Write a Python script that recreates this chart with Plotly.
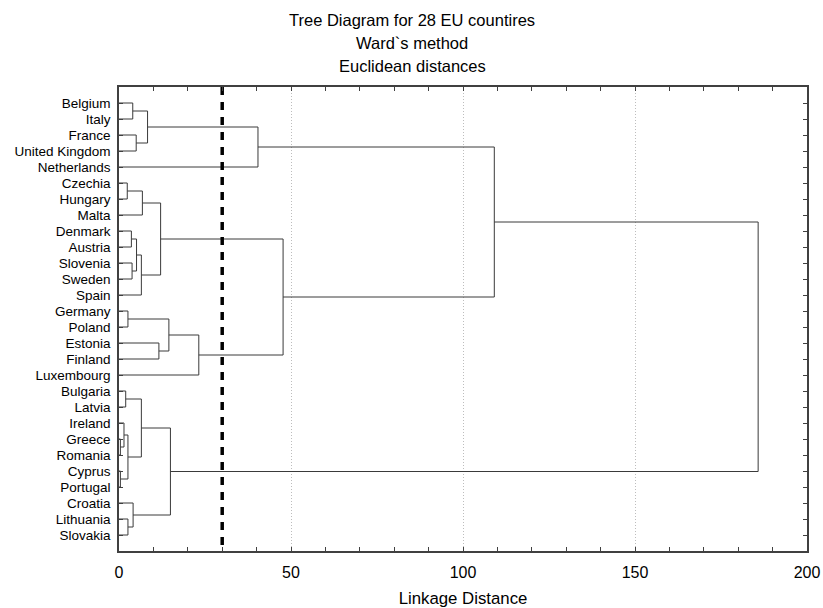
import plotly.graph_objects as go

leaves = ["Belgium", "Italy", "France", "United Kingdom", "Netherlands",
          "Czechia", "Hungary", "Malta", "Denmark", "Austria", "Slovenia",
          "Sweden", "Spain", "Germany", "Poland", "Estonia", "Finland",
          "Luxembourg", "Bulgaria", "Latvia", "Ireland", "Greece", "Romania",
          "Cyprus", "Portugal", "Croatia", "Lithuania", "Slovakia"]

# merges: children are leaf names or "M<i>" (earlier merges)
merge_left = ["Belgium", "France", "M0", "M2", "Czechia", "M4", "Denmark",
              "Slovenia", "M6", "M8", "M5", "Germany", "Estonia", "M11", "M13",
              "M10", "M3", "Bulgaria", "Greece", "Ireland", "Cyprus", "M19",
              "M17", "Lithuania", "Croatia", "M22", "M16"]
merge_right = ["Italy", "United Kingdom", "M1", "Netherlands", "Hungary",
               "Malta", "Austria", "Sweden", "M7", "Spain", "M9", "Poland",
               "Finland", "M12", "Luxembourg", "M14", "M15", "Latvia",
               "Romania", "M18", "Portugal", "M20", "M21", "Slovakia", "M23",
               "M24", "M25"]
merge_height = [4.0, 5.0, 8.3, 40.4, 2.4, 6.8, 3.6, 3.8, 5.1, 6.5, 12.1,
                2.6, 11.6, 14.5, 23.2, 47.7, 109.1, 1.95, 0.4, 1.45, 0.4,
                2.6, 6.5, 2.6, 4.1, 14.95, 185.8]

cutoff = 30
x_ticks = [0, 50, 100, 150, 200]

title_lines = ["Tree Diagram for 28 EU countires", "Ward`s method",
               "Euclidean distances"]

# positions of nodes
pos = {name: (0.0, float(i)) for i, name in enumerate(leaves)}
xs, ys = [], []
for i, (a, b, h) in enumerate(zip(merge_left, merge_right, merge_height)):
    ha, ya = pos[a]
    hb, yb = pos[b]
    xs += [ha, h, h, hb, None]
    ys += [ya, ya, yb, yb, None]
    pos[f"M{i}"] = (h, (ya + yb) / 2)

fig = go.Figure()
fig.add_trace(go.Scatter(x=xs, y=ys, mode="lines",
                         line=dict(color="#3a3a3a", width=1),
                         hoverinfo="skip", showlegend=False))
fig.add_trace(go.Scatter(x=[cutoff, cutoff], y=[-1, len(leaves)], mode="lines",
                         line=dict(color="black", width=3.5, dash="8px,7px"),
                         hoverinfo="skip", showlegend=False))

font_family = "Liberation Sans, Arial, sans-serif"
annotations = []
for k, t in enumerate(title_lines):
    annotations.append(dict(text=t, xref="paper", yref="paper",
                            x=(412 - 119) / (807 - 119), y=(551 - 20 - 23 * k) / 464,
                            xanchor="center", yanchor="middle", showarrow=False,
                            font=dict(size=16.5, color="black", family=font_family)))

fig.update_layout(
    width=823, height=608,
    margin=dict(l=119, r=16, t=87, b=57),
    paper_bgcolor="white", plot_bgcolor="white",
    font=dict(family=font_family, color="black"),
    annotations=annotations,
    showlegend=False,
)
fig.update_xaxes(
    range=[0, 200], tickvals=x_ticks, ticks="inside", ticklen=4,
    tickcolor="#404040", tickfont=dict(size=16),
    showline=True, linecolor="#404040", linewidth=1.5, mirror="ticks",
    showgrid=True, gridcolor="#bdbdbd", griddash="1px,2px", gridwidth=1,
    minor=dict(dtick=10, ticks="inside", ticklen=4, tickcolor="#404040", showgrid=False),
    zeroline=False, automargin=False,
    title=dict(text="Linkage Distance", font=dict(size=16.8), standoff=14),
    ticklabelstandoff=6,
)
fig.update_yaxes(
    range=[len(leaves), -1], tickvals=list(range(len(leaves))), ticktext=leaves,
    ticks="inside", ticklen=4, tickcolor="#404040", tickfont=dict(size=13.5),
    showline=True, linecolor="#404040", linewidth=1.5, mirror="ticks",
    showgrid=False, zeroline=False, ticklabelstandoff=4, automargin=False,
)

fig.write_html("out.html", config={"displayModeBar": False},
               post_script="document.body.style.margin='0';")
